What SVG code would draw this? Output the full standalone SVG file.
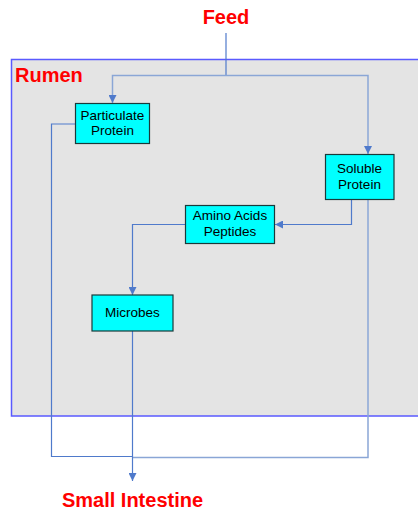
<svg xmlns="http://www.w3.org/2000/svg" width="418" height="512" viewBox="0 0 418 512">
<style>
.lbl{font-family:"Liberation Sans",Arial,sans-serif;font-weight:bold;fill:#FF0000;font-size:20px;}
.node rect{fill:#00FFFF;stroke:#1a3a3a;stroke-width:1.2;}
.node text{font-family:"Liberation Sans",Arial,sans-serif;font-size:13.5px;fill:#000;text-anchor:middle;}
.c{fill:none;stroke:#4f7acb;stroke-width:1.2;}
.c2{fill:none;stroke:#8aa6d6;stroke-width:1.5;}
</style>
<defs>
<marker id="ah" viewBox="0 0 10 10" refX="10" refY="5" markerWidth="8" markerHeight="8" markerUnits="userSpaceOnUse" orient="auto"><path d="M0,0 L10,5 L0,10 z" fill="#4f7acb"/></marker>
</defs>
<g id="rumen">
<rect x="11.5" y="59.5" width="420" height="356.5" fill="#E4E4E4" stroke="#5a5aff" stroke-width="1.5"/>
<text class="lbl" x="15" y="82">Rumen</text>
</g>
<text class="lbl" x="226" y="24" text-anchor="middle">Feed</text>
<text class="lbl" x="132.5" y="507" text-anchor="middle">Small Intestine</text>
<g id="connectors">
<path class="c" d="M226,33 V75.5"/>
<path class="c2" d="M226,75.5 H112.5 V103" marker-end="url(#ah)"/>
<path class="c2" d="M226,75.5 H368 V154" marker-end="url(#ah)"/>
<path class="c" d="M75,124 H51.5 V456.5 H132"/>
<path class="c" d="M351.5,199 V224.5 H275" marker-end="url(#ah)"/>
<path class="c2" d="M368,199 V457.5 H132"/>
<path class="c" d="M185,224.5 H132.5 V295" marker-end="url(#ah)"/>
<path class="c" d="M132.5,331 V481" marker-end="url(#ah)"/>
</g>
<g id="particulate" class="node">
<rect x="75.5" y="103.5" width="74" height="40"/>
<text x="112.5" y="119.5">Particulate</text>
<text x="112.5" y="135">Protein</text>
</g>
<g id="soluble" class="node">
<rect x="325.5" y="154.5" width="68.5" height="45"/>
<text x="359.5" y="172.5">Soluble</text>
<text x="359.5" y="188.5">Protein</text>
</g>
<g id="amino" class="node">
<rect x="185.5" y="205.5" width="89" height="38"/>
<text x="230" y="220">Amino Acids</text>
<text x="230" y="236">Peptides</text>
</g>
<g id="microbes" class="node">
<rect x="92" y="295" width="81" height="36"/>
<text x="132.5" y="317">Microbes</text>
</g>
</svg>
